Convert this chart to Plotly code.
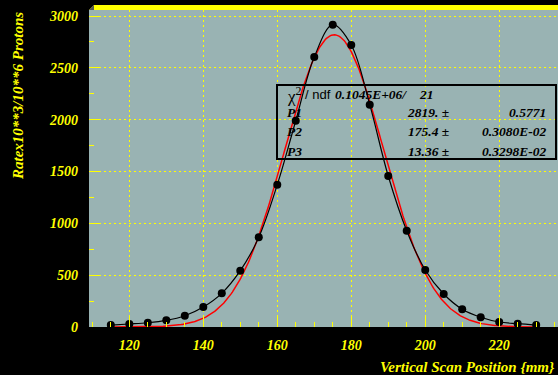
import numpy as np
import plotly.graph_objects as go

# ---- data ----
scan_pos = [115, 120, 125, 130, 135, 140, 145, 150, 155, 160, 165, 170,
            175, 180, 185, 190, 195, 200, 205, 210, 215, 220, 225, 230]
rate = [19, 29, 41, 64, 109, 193, 325, 543, 865, 1373, 1990, 2604,
        2916, 2720, 2145, 1457, 929, 550, 318, 171, 94, 48, 32, 19]

# fit parameters (Gaussian: P1*exp(-0.5*((x-P2)/P3)^2)), as printed in the stats box
P1, P2, P3 = 2819.0, 175.4, 13.36
fit_lo, fit_hi = 115.0, 230.0
stat_rows = [("P1", "2819. \u00b1", "0.5771"),
             ("P2", "175.4 \u00b1", "0.3080E-02"),
             ("P3", "13.36 \u00b1", "0.3298E-02")]
chi2_text = "0.1045E+06/"
ndf_text = "21"

x_ticks = [120, 140, 160, 180, 200, 220]
y_ticks = [0, 500, 1000, 1500, 2000, 2500, 3000]

W, H = 558, 375
L, R, T, B = 89, 0, 10, 48
X0, X1 = L, W - R
Y0, Y1 = T, H - B


def px(x):
    return (x - X0) / (X1 - X0)


def py(y):
    return (Y1 - y) / (Y1 - Y0)


SERIF = "Liberation Serif"
SANS = "Liberation Sans"
YEL = "#ffff00"
BG = "rgb(153,179,179)"

fx = np.linspace(fit_lo, fit_hi, 400)
fy = P1 * np.exp(-0.5 * ((fx - P2) / P3) ** 2)

fig = go.Figure()
fig.add_trace(go.Scatter(x=fx, y=fy, mode="lines",
                         line=dict(color="#ff0000", width=1.5),
                         hoverinfo="skip", cliponaxis=False))
fig.add_trace(go.Scatter(x=scan_pos, y=rate, mode="lines+markers",
                         line=dict(color="black", width=1.2, shape="spline", smoothing=1.0),
                         marker=dict(color="black", size=8),
                         cliponaxis=False))

tickfont = dict(family=SERIF, size=14, color=YEL, weight="bold", style="italic")

fig.update_xaxes(range=[109.1, 235.9], tickvals=x_ticks,
                 ticks="inside", ticklen=10, tickwidth=1, tickcolor=YEL,
                 minor=dict(dtick=5, tick0=0, ticks="inside", ticklen=5, tickcolor=YEL, showgrid=False),
                 showgrid=True, gridcolor=YEL, gridwidth=1, griddash="2px,3px",
                 showline=False, zeroline=False, tickfont=tickfont,
                 ticklabelstandoff=8)
fig.update_yaxes(range=[0, 3058], tickvals=y_ticks,
                 ticks="inside", ticklen=10, tickwidth=1, tickcolor=YEL,
                 minor=dict(dtick=250, tick0=0, ticks="inside", ticklen=5, tickcolor=YEL, showgrid=False),
                 showgrid=True, gridcolor=YEL, gridwidth=1, griddash="2px,3px",
                 showline=False, zeroline=False, tickfont=tickfont,
                 ticklabelstandoff=10)

shapes = [
    # top yellow frame edge with bevel
    dict(type="path", xref="paper", yref="paper",
         path=f"M {px(89)} {py(10)} L {px(94)} {py(5)} L {px(558)} {py(5)} L {px(558)} {py(10)} Z",
         fillcolor=YEL, line=dict(width=0), layer="above"),
    dict(type="path", xref="paper", yref="paper",
         path=f"M {px(89)} {py(10)} L {px(94)} {py(5)} L {px(94)} {py(10)} Z",
         fillcolor="#555555", line=dict(width=0), layer="above"),
    # stats box
    dict(type="rect", xref="paper", yref="paper",
         x0=px(277), x1=px(556), y0=py(159), y1=py(85),
         line=dict(color="black", width=2), fillcolor="rgba(0,0,0,0)", layer="above"),
]

ann = []
bfont = dict(family=SERIF, size=13.5, color="black", weight="bold", style="italic")


def bi(s):
    return f"<b><i>{s}</i></b>"


# chi2 row
ann.append(dict(x=px(285), y=py(95), xref="paper", yref="paper", xanchor="left", yanchor="middle",
                text="\u03c7<sup>2</sup>", showarrow=False,
                font=dict(family=SERIF, size=17, color="black")))
ann.append(dict(x=px(303), y=py(94), xref="paper", yref="paper", xanchor="left", yanchor="middle",
                text="/ ndf", showarrow=False,
                font=dict(family=SANS, size=13, color="black")))
ann.append(dict(x=px(333), y=py(94), xref="paper", yref="paper", xanchor="left", yanchor="middle",
                text=bi(chi2_text), showarrow=False, font=bfont))
ann.append(dict(x=px(436), y=py(94), xref="paper", yref="paper", xanchor="right", yanchor="middle",
                text=bi(ndf_text), showarrow=False, font=bfont))
row_y = [112, 131, 151]
for (name, val, err), yy in zip(stat_rows, row_y):
    ann.append(dict(x=px(285), y=py(yy), xref="paper", yref="paper", xanchor="left", yanchor="middle",
                    text=bi(name), showarrow=False, font=bfont))
    ann.append(dict(x=px(451), y=py(yy), xref="paper", yref="paper", xanchor="right", yanchor="middle",
                    text=bi(val), showarrow=False, font=bfont))
    ann.append(dict(x=px(548), y=py(yy), xref="paper", yref="paper", xanchor="right", yanchor="middle",
                    text=bi(err), showarrow=False, font=bfont))

titlefont = dict(family=SERIF, size=15, color=YEL, weight="bold", style="italic")
ann.append(dict(x=px(557), y=py(367), xref="paper", yref="paper", xanchor="right", yanchor="middle",
                text=bi("Vertical Scan Position {mm}"), showarrow=False, font=titlefont))
ann.append(dict(x=px(18), y=py(96), xref="paper", yref="paper", xanchor="center", yanchor="middle",
                text=bi("Ratex10**3/10**6 Protons"), textangle=-90, showarrow=False, font=titlefont))

fig.update_layout(width=W, height=H, margin=dict(l=L, r=R, t=T, b=B, pad=0),
                  paper_bgcolor="black", plot_bgcolor=BG, showlegend=False,
                  shapes=shapes, annotations=ann)

fig.write_html("out.html", config={"displayModeBar": False},
               post_script="document.body.style.margin='0';document.body.style.padding='0';"
                           "document.body.style.background='black';")
